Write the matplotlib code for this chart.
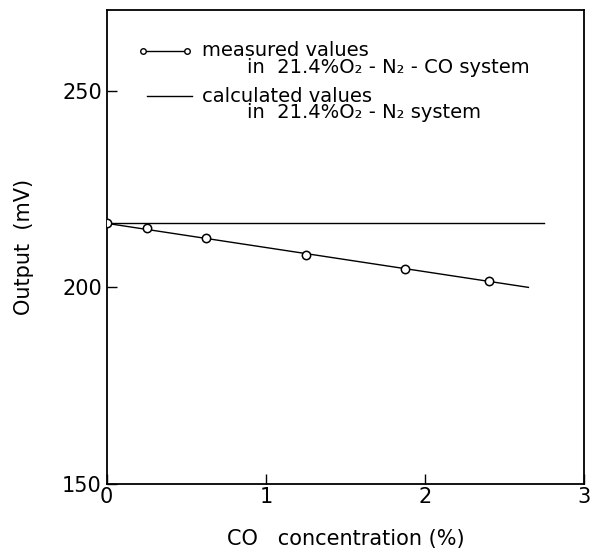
import matplotlib
matplotlib.use("Agg")
import matplotlib.pyplot as plt

# measured values (21.4%O2 - N2 - CO system)
co_conc = [0.0, 0.25, 0.625, 1.25, 1.875, 2.4]
output_mv = [216.3, 215.1, 212.5, 208.2, 204.6, 201.5]

# fitted line through the measured points
fit_x = [0.0, 2.65]
fit_y = [216.3, 200.0]

# calculated values (21.4%O2 - N2 system)
calc_x = [0.0, 2.75]
calc_y = [216.3, 216.3]

x_ticks = [0, 1, 2, 3]
y_ticks = [150, 200, 250]

plt.rcParams['font.family'] = 'DejaVu Sans'

fig = plt.figure(figsize=(5.93, 5.58), dpi=100)
ax = fig.add_axes([0.180, 0.133, 0.805, 0.849])

ax.plot(calc_x, calc_y, color='black', lw=1.0)
ax.plot(fit_x, fit_y, color='black', lw=1.0)
ax.plot(co_conc, output_mv, 'o', color='black', mfc='white', ms=6, mew=1.1, zorder=3)

ax.set_xlim(0, 3)
ax.set_ylim(150, 270.6)
ax.set_xticks(x_ticks)
ax.set_yticks(y_ticks)
ax.tick_params(direction='in', length=7, width=1.0, labelsize=15, colors='black')
ax.tick_params(axis='x', pad=2)
for s in ax.spines.values():
    s.set_linewidth(1.3)

ax.set_xlabel('CO   concentration (%)', fontsize=15, labelpad=16)
ax.set_ylabel('Output  (mV)', fontsize=15, labelpad=20)

# legend drawn by hand
ax.plot([0.226, 0.503], [260.2, 260.2], color='black', lw=1.0)
ax.plot([0.226, 0.503], [260.2, 260.2], 'o', color='black', mfc='white', ms=4, mew=1.0)
ax.text(0.6, 260.2, 'measured values', fontsize=14, va='center')
ax.text(0.88, 255.9, 'in  21.4%O\u2082 - N\u2082 - CO system', fontsize=14, va='center')
ax.plot([0.25, 0.535], [248.7, 248.7], color='black', lw=1.0)
ax.text(0.6, 248.7, 'calculated values', fontsize=14, va='center')
ax.text(0.88, 244.4, 'in  21.4%O\u2082 - N\u2082 system', fontsize=14, va='center')

fig.savefig('out.png', dpi=100)
